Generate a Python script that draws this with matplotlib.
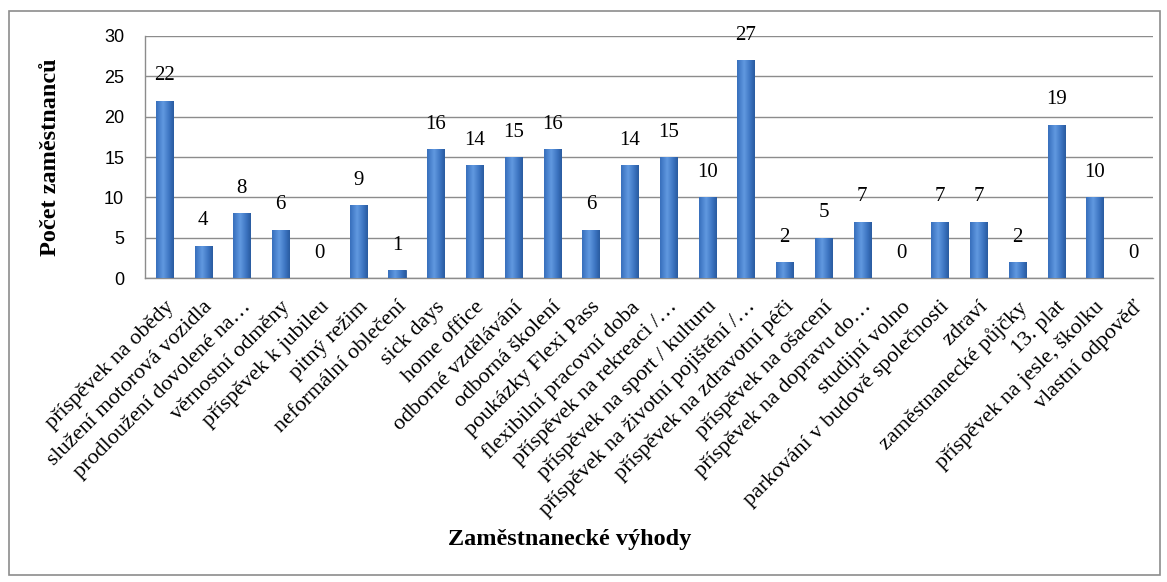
import numpy as np
import matplotlib.pyplot as plt
from matplotlib.patches import Rectangle
from matplotlib.colors import LinearSegmentedColormap

# Data
kategorie = [
    'příspěvek na obědy', 'služení motorová vozidla', 'prodloužení dovolené na…',
    'věrnostní odměny', 'příspěvek k jubileu', 'pitný režim', 'neformální oblečení',
    'sick days', 'home office', 'odborné vzdělávání', 'odborná školení',
    'poukázky Flexi Pass', 'flexibilní pracovní doba', 'příspěvek na rekreaci /…',
    'příspěvek na sport / kulturu', 'příspěvek na životní pojištění /…',
    'příspěvek na zdravotní péči', 'příspěvek na ošacení', 'příspěvek na dopravu do…',
    'studijní volno', 'parkování v budově společnosti', 'zdraví',
    'zaměstnanecké půjčky', '13. plat', 'příspěvek na jesle, školku', 'vlastní odpověď',
]
pocty = [22, 4, 8, 6, 0, 9, 1, 16, 14, 15, 16, 6, 14, 15, 10, 27, 2, 5, 7, 0, 7, 7, 2, 19, 10, 0]
y_ticks = [0, 5, 10, 15, 20, 25, 30]

serif = ['Liberation Serif', 'DejaVu Serif']
sans = ['Liberation Sans', 'DejaVu Sans']

fig = plt.figure(figsize=(11.67, 5.82), dpi=100)
# rámeček kolem grafu
fig.patches.append(Rectangle((9 / 1167, 1 - 575 / 582), (1160 - 9) / 1167, (575 - 11) / 582,
                             transform=fig.transFigure, fill=False, edgecolor='#8c8c8c', lw=1.2))
ax = fig.add_axes([145 / 1167, 1 - 278 / 582, (1153 - 145) / 1167, (278 - 36) / 582])

x = np.arange(len(kategorie))
bars = ax.bar(x, pocty, width=0.44, color='#3b73c0', edgecolor='#2c5a9a', lw=0.6, zorder=3)

# gradient na sloupcích (válcový efekt)
cmap = LinearSegmentedColormap.from_list('bar', ['#214f8f', '#3b73c0', '#6199e0'])
grad = np.linspace(0, 1, 64)
grad = np.atleast_2d(1 - np.abs(grad - 0.4) * 1.4)
for b in bars:
    if b.get_height() <= 0:
        continue
    x0, w, h = b.get_x(), b.get_width(), b.get_height()
    im = ax.imshow(grad, extent=(x0, x0 + w, 0, h), aspect='auto', cmap=cmap,
                   vmin=0, vmax=1, zorder=3.5, interpolation='bicubic')
    im.set_clip_path(b)

for xi, v in zip(x, pocty):
    ax.annotate(str(v), (xi, v), xytext=(0, 11), textcoords='offset points',
                ha='center', va='bottom', fontsize=15, family=serif)

ax.set_xlim(-0.5, len(kategorie) - 0.5)
ax.set_ylim(0, 30)
ax.set_yticks(y_ticks)
ax.set_yticklabels([str(t) for t in y_ticks], family=sans, fontsize=13)
ax.yaxis.grid(True, color='#8c8c8c', lw=1)
ax.set_axisbelow(True)
ax.tick_params(axis='y', length=0, pad=15)
ax.tick_params(axis='x', length=0, pad=14)
ax.set_xticks(x)
ax.set_xticklabels(kategorie, rotation=45, ha='right', va='top', rotation_mode='anchor',
                   family=serif, fontsize=16)

for s in ['top', 'right']:
    ax.spines[s].set_visible(False)
for s in ['left', 'bottom']:
    ax.spines[s].set_color('#8c8c8c')
    ax.spines[s].set_linewidth(1)

fig.text(51 / 1167, 1 - 157 / 582, 'Počet zaměstnanců', rotation=90, ha='center', va='center',
         fontsize=17.5, fontweight='bold', family=serif)
fig.text(570 / 1167, 1 - 539 / 582, 'Zaměstnanecké výhody', ha='center', va='center',
         fontsize=17.5, fontweight='bold', family=serif)

fig.savefig('out.png', dpi=100)
